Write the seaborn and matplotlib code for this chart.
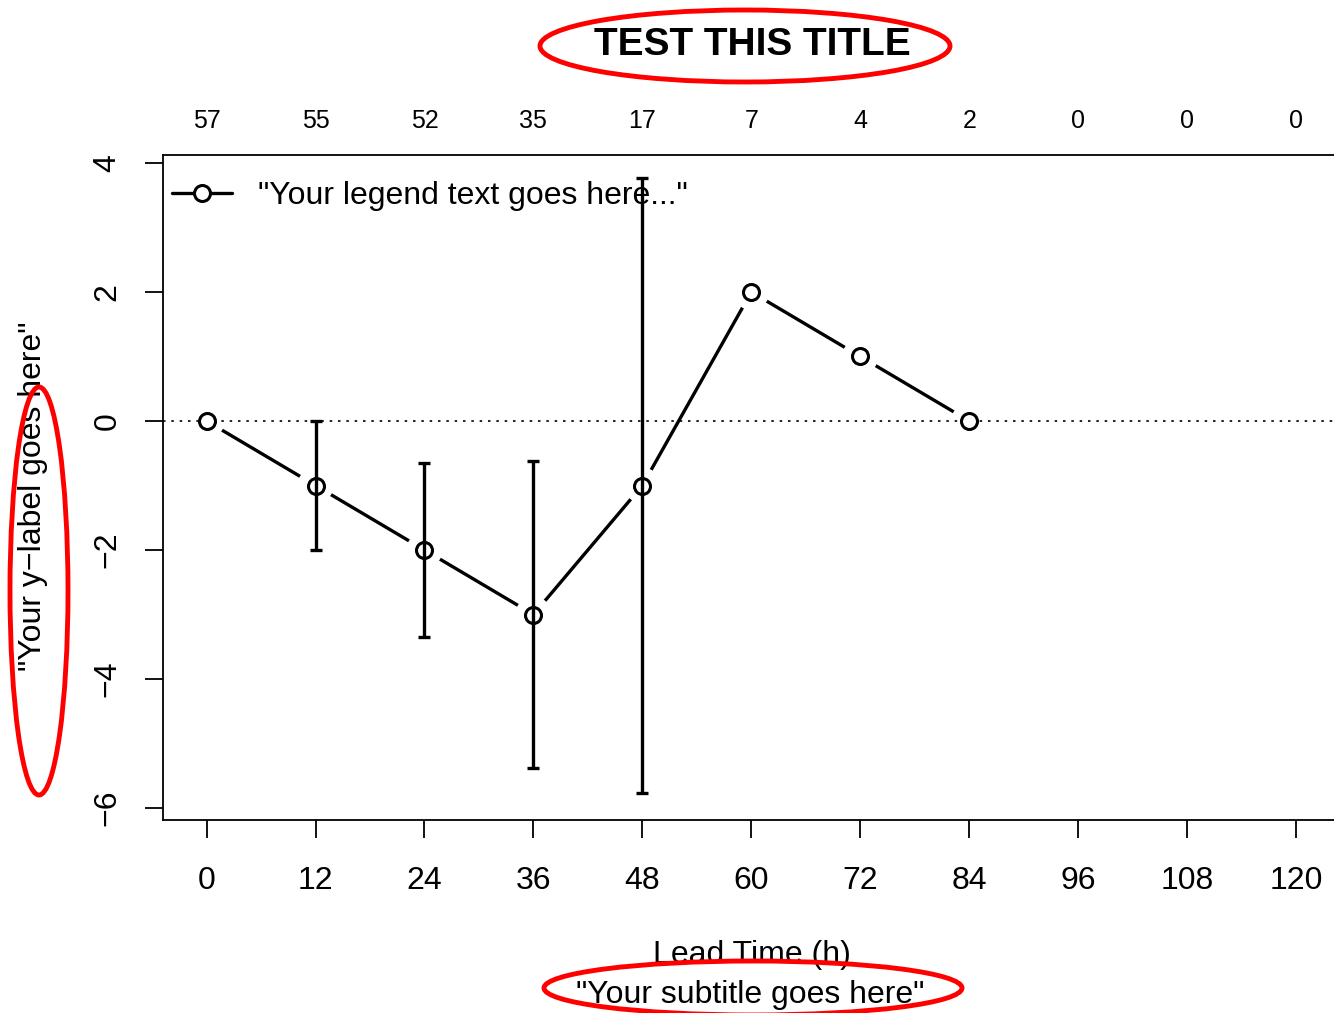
import matplotlib
matplotlib.use("Agg")
import matplotlib.pyplot as plt
from matplotlib.patches import Ellipse
from matplotlib.lines import Line2D
import seaborn as sns
import pandas as pd

# dados
lead_time = [0, 12, 24, 36, 48, 60, 72, 84]
valores = [0, -1, -2, -3, -1, 2, 1, 0]
erros = [0, 1.0, 1.35, 2.38, 4.77, 0, 0, 0]
ticks_x = [0, 12, 24, 36, 48, 60, 72, 84, 96, 108, 120]
contagens = [57, 55, 52, 35, 17, 7, 4, 2, 0, 0, 0]
ticks_y = [-6, -4, -2, 0, 2, 4]

df = pd.DataFrame({'Lead': lead_time, 'Valor': valores, 'Erro': erros})

sns.set_style('ticks')
plt.rcParams['font.family'] = ['Liberation Sans', 'DejaVu Sans']
plt.rcParams['text.color'] = 'black'

W, H = 1334, 1013
fig = plt.figure(figsize=(W / 100, H / 100), dpi=100)
ax = fig.add_axes([163 / W, 1 - 820 / H, (1339.6 - 163) / W, (820 - 155) / H])

# linha tipo "b" do R (com espacos ao redor dos pontos)
sns.lineplot(x='Lead', y='Valor', data=df, color='black', linewidth=2.4,
             errorbar=None, ax=ax, zorder=2, legend=False)
ax.scatter(df['Lead'], df['Valor'], s=26 ** 2, color='white', edgecolors='none', zorder=3)

# linha pontilhada no zero
ax.axhline(0, color='black', linestyle=(0, (1.5, 3.5)), linewidth=1.2, zorder=3.5)

# pontos
ax.plot(df['Lead'], df['Valor'], linestyle='none', marker='o', markersize=11.5,
        markerfacecolor='white', markeredgecolor='black', markeredgewidth=2.2, zorder=4)

# barras de erro
com_erro = df[df['Erro'] > 0]
ax.errorbar(com_erro['Lead'], com_erro['Valor'], yerr=com_erro['Erro'], fmt='none',
            ecolor='black', elinewidth=2.4, capsize=4, capthick=2.4, zorder=5)

ax.set_xlim(-4.8, 124.8)
ax.set_ylim(-6.186, 4.124)
ax.set_xticks(ticks_x)
ax.set_xticklabels([str(t) for t in ticks_x])
ax.set_yticks(ticks_y)
ax.set_yticklabels([str(t).replace('-', '\u2212') for t in ticks_y], rotation=90, va='center')
ax.tick_params(axis='both', direction='out', length=13, width=1.3, labelsize=23,
               color='black', labelcolor='black')
ax.tick_params(axis='x', pad=20)
ax.tick_params(axis='y', pad=16)
for s in ax.spines.values():
    s.set_color('black')
    s.set_linewidth(1.3)
ax.set_xlabel('')
ax.set_ylabel('')

# eixo de cima com as contagens
ax2 = ax.secondary_xaxis('top')
ax2.set_xticks(ticks_x)
ax2.set_xticklabels([str(c) for c in contagens])
ax2.tick_params(axis='x', length=0, pad=16, labelsize=18, labelcolor='black')
ax2.spines['top'].set_visible(False)

# legenda
handle = Line2D([], [], color='black', linewidth=2.4, marker='o', markersize=11.5,
                markerfacecolor='white', markeredgecolor='black', markeredgewidth=2.2)
ax.legend([handle], ['"Your legend text goes here..."'], loc='center left',
          bbox_to_anchor=(9 / 1176.6, (820 - 196) / 665), frameon=False, fontsize=23,
          handlelength=1.88, handletextpad=0.8, borderpad=0, borderaxespad=0)

# textos
fig.text(752 / W, 1 - 45 / H, 'TEST THIS TITLE', ha='center', va='center',
         fontsize=28, fontweight='bold', color='black')
fig.text(752 / W, 1 - 955 / H, 'Lead Time (h)', ha='center', va='center',
         fontsize=23, color='black')
fig.text(750 / W, 1 - 995 / H, '"Your subtitle goes here"', ha='center', va='center',
         fontsize=23, color='black')
fig.text(33 / W, 1 - 496 / H, '"Your y\u2212label goes here"', ha='center', va='center',
         rotation=90, fontsize=23, color='black')

# elipses vermelhas
for cx, cy, ew, eh in [(745, 46, 410, 72), (39, 591, 58, 408), (753, 988, 418, 54)]:
    fig.add_artist(Ellipse((cx / W, 1 - cy / H), ew / W, eh / H, transform=fig.transFigure,
                           fill=False, edgecolor='red', linewidth=3.5, zorder=10))

fig.savefig('out.png', dpi=100)
